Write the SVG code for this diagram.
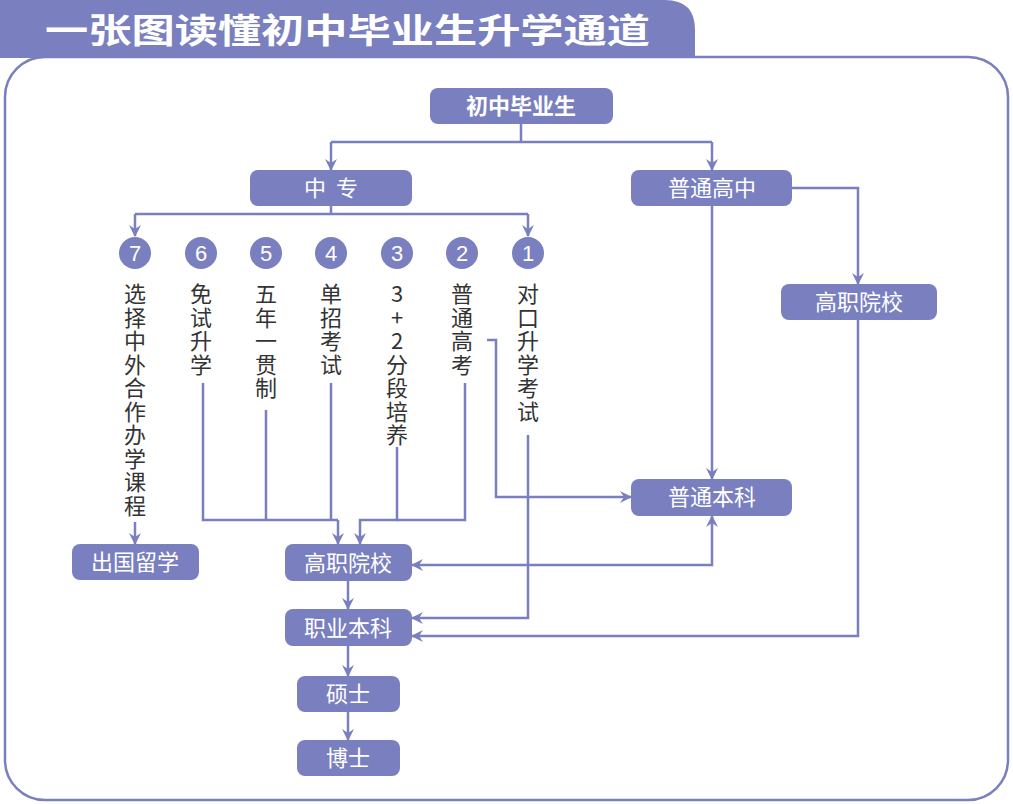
<svg xmlns="http://www.w3.org/2000/svg" width="1013" height="804" viewBox="0 0 1013 804">
<style>
.n{fill:#7A7FBF}
.t{fill:#fff;font-family:"Noto Sans CJK SC","Noto Sans",sans-serif;font-size:22px;text-anchor:middle}
.b{font-weight:bold}
.c{fill:none;stroke:#7A7FBF;stroke-width:2.5}
.v{fill:#333;font-family:"Noto Sans CJK SC","Noto Sans",sans-serif;font-size:22px;writing-mode:vertical-rl;text-orientation:upright;letter-spacing:1.5px}
.num{fill:#fff;font-family:"Liberation Sans",sans-serif;font-size:22px;text-anchor:middle}
</style>
<defs>
<marker id="a" viewBox="0 0 12 12" refX="11" refY="6" markerWidth="12" markerHeight="12" markerUnits="userSpaceOnUse" orient="auto-start-reverse">
<path d="M0,0 L12,6 L0,12 L4,6 z" fill="#7A7FBF"/>
</marker>
</defs>
<rect width="1013" height="804" fill="#fff"/>
<rect x="5" y="57" width="1003" height="743" rx="40" fill="#fff" stroke="#7A7FBF" stroke-width="2.5"/>
<g id="title">
<path d="M0,0 H665 Q695,0 695,30 V58 H0 Z" fill="#7A7FBF"/>
<text x="45" y="43" class="t b" style="font-size:34px;text-anchor:start" textLength="605" lengthAdjust="spacingAndGlyphs">一张图读懂初中毕业生升学通道</text>
</g>
<g id="connectors">
<path class="c" d="M521,124 V142 M331,142 H712"/>
<path class="c" marker-end="url(#a)" d="M331,142 V170"/>
<path class="c" marker-end="url(#a)" d="M712,142 V170"/>
<path class="c" d="M331,206 V214 M135,214 H528"/>
<path class="c" marker-end="url(#a)" d="M135,214 V236"/>
<path class="c" marker-end="url(#a)" d="M528,214 V236"/>
<path class="c" marker-end="url(#a)" d="M135,522 V544"/>
<path class="c" d="M203,383 V520 H338 M266,410 V520 M331,383 V520"/>
<path class="c" marker-end="url(#a)" d="M338,520 V544"/>
<path class="c" marker-end="url(#a)" d="M397,447 V520 H360 V544"/>
<path class="c" d="M465,383 V520 H397"/>
<path class="c" marker-end="url(#a)" d="M487,340 H496 V497 H631"/>
<path class="c" marker-end="url(#a)" d="M528,435 V618 H412"/>
<path class="c" marker-end="url(#a)" d="M712,206 V479"/>
<path class="c" marker-end="url(#a)" d="M792,188 H858 V284"/>
<path class="c" marker-end="url(#a)" d="M858,320 V636 H412"/>
<path class="c" marker-start="url(#a)" marker-end="url(#a)" d="M412,565 H712 V516"/>
<path class="c" marker-end="url(#a)" d="M348,581 V609"/>
<path class="c" marker-end="url(#a)" d="M348,646 V676"/>
<path class="c" marker-end="url(#a)" d="M348,712 V740"/>
</g>
<g id="n-chuzhong"><rect class="n" x="430" y="88" width="183" height="36" rx="8"/><text class="t b" x="521" y="114">初中毕业生</text></g>
<g id="n-zhongzhuan"><rect class="n" x="250" y="170" width="162" height="36" rx="8"/><text class="t" x="331" y="196" xml:space="preserve">中  专</text></g>
<g id="n-gaozhong"><rect class="n" x="631" y="170" width="161" height="36" rx="8"/><text class="t" x="712" y="196">普通高中</text></g>
<g id="n-gaozhi2"><rect class="n" x="781" y="284" width="156" height="36" rx="8"/><text class="t" x="859" y="310">高职院校</text></g>
<g id="n-benke"><rect class="n" x="631" y="479" width="161" height="37" rx="8"/><text class="t" x="712" y="505">普通本科</text></g>
<g id="n-chuguo"><rect class="n" x="72" y="544" width="127" height="36" rx="8"/><text class="t" x="135" y="570">出国留学</text></g>
<g id="n-gaozhi"><rect class="n" x="285" y="544" width="127" height="37" rx="8"/><text class="t" x="348" y="571">高职院校</text></g>
<g id="n-zhiye"><rect class="n" x="285" y="609" width="127" height="37" rx="8"/><text class="t" x="348" y="636">职业本科</text></g>
<g id="n-shuoshi"><rect class="n" x="297" y="676" width="103" height="36" rx="8"/><text class="t" x="348" y="702">硕士</text></g>
<g id="n-boshi"><rect class="n" x="297" y="740" width="103" height="36" rx="8"/><text class="t" x="348" y="766">博士</text></g>
<g id="p7"><circle class="n" cx="135" cy="253" r="16"/><text class="num" x="135" y="261">7</text><text class="v" x="135" y="283">选择中外合作办学课程</text></g>
<g id="p6"><circle class="n" cx="201" cy="253" r="16"/><text class="num" x="201" y="261">6</text><text class="v" x="201" y="283">免试升学</text></g>
<g id="p5"><circle class="n" cx="266" cy="253" r="16"/><text class="num" x="266" y="261">5</text><text class="v" x="266" y="283">五年一贯制</text></g>
<g id="p4"><circle class="n" cx="331" cy="253" r="16"/><text class="num" x="331" y="261">4</text><text class="v" x="331" y="283">单招考试</text></g>
<g id="p3"><circle class="n" cx="397" cy="253" r="16"/><text class="num" x="397" y="261">3</text><text class="v" x="397" y="283">3+2分段培养</text></g>
<g id="p2"><circle class="n" cx="462" cy="253" r="16"/><text class="num" x="462" y="261">2</text><text class="v" x="462" y="283">普通高考</text></g>
<g id="p1"><circle class="n" cx="528" cy="253" r="16"/><text class="num" x="528" y="261">1</text><text class="v" x="528" y="283">对口升学考试</text></g>
</svg>
